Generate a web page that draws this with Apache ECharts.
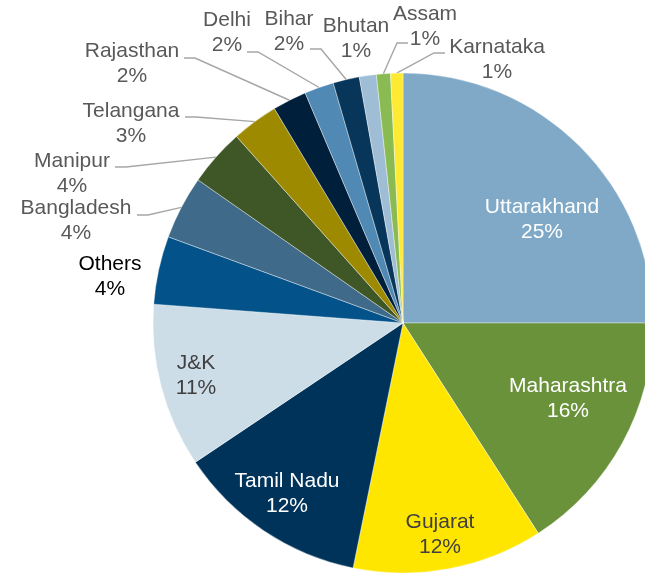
<!DOCTYPE html>
<html>
<head>
<meta charset="utf-8">
<script src="https://cdn.jsdelivr.net/npm/echarts/dist/echarts.min.js"></script>
<style>
  html, body { margin: 0; padding: 0; background: #fff; }
  #chart { width: 645px; height: 573px; }
</style>
</head>
<body>
<div id="chart"></div>
<script>
// share of total by region, clockwise from 12 o'clock
const regions = ['Uttarakhand', 'Maharashtra', 'Gujarat', 'Tamil Nadu', 'J&K', 'Others',
  'Bangladesh', 'Manipur', 'Telangana', 'Rajasthan', 'Delhi', 'Bihar', 'Bhutan', 'Assam', 'Karnataka']
const shares = [25.0, 15.9, 12.3, 12.4, 10.6, 4.4, 4.1, 3.7, 3.0, 2.2, 1.9, 1.7, 1.1, 0.9, 0.8]

const sliceColors = ['#7FA9C6', '#6A923A', '#FFE600', '#003359', '#CCDDE8', '#03538A',
  '#3F6A89', '#3F5727', '#9E8A00', '#001F3A', '#5089B4', '#07365A', '#9FBED6', '#8ABB52', '#FFEA33']

// label placement (centre of the two-line block)
const labelAt = {
  'Uttarakhand': [542, 220],
  'Maharashtra': [568, 399],
  'Gujarat': [440, 535],
  'Tamil Nadu': [287, 494],
  'J&K': [196, 376],
  'Others': [110, 277],
  'Bangladesh': [76, 221],
  'Manipur': [72, 174],
  'Telangana': [131, 124],
  'Rajasthan': [132, 64],
  'Delhi': [227, 33],
  'Bihar': [289, 32],
  'Bhutan': [356, 39],
  'Assam': [425, 27],
  'Karnataka': [497, 60]
}
// where the leader line leaves the label, and which way it heads
const leaderFrom = {
  'Bangladesh': [137, 215, 1],
  'Manipur': [115, 167, 1],
  'Telangana': [185, 117, 1],
  'Rajasthan': [184, 58, 1],
  'Delhi': [247, 52, 1],
  'Bihar': [310, 49, 1],
  'Assam': [408, 43, -1],
  'Karnataka': [445, 53, -1]
}
const insideLabels = ['Uttarakhand', 'Maharashtra', 'Gujarat', 'Tamil Nadu', 'J&K']
const darkInside = ['Gujarat', 'J&K']

function labelColor(name) {
  if (name === 'Others') return '#000000'
  if (darkInside.includes(name)) return '#404040'
  if (insideLabels.includes(name)) return '#FFFFFF'
  return '#595959'
}

const seriesData = regions.map((name, i) => ({
  name: name,
  value: shares[i],
  itemStyle: { color: sliceColors[i] },
  label: {
    position: insideLabels.includes(name) ? 'inside' : 'outside',
    color: labelColor(name)
  },
  labelLine: { show: !!leaderFrom[name] }
}))

const myChart = echarts.init(document.getElementById('chart'), null, { renderer: 'canvas' })

const option = {
  animation: false,
  backgroundColor: '#ffffff',
  series: [
    {
      type: 'pie',
      center: [403, 323],
      radius: 250,
      startAngle: 90,
      clockwise: true,
      avoidLabelOverlap: false,
      itemStyle: {
        borderColor: 'rgba(255,255,255,0.55)',
        borderWidth: 0.7
      },
      label: {
        fontFamily: 'Liberation Sans, Arial, sans-serif',
        fontSize: 21,
        lineHeight: 25,
        align: 'center',
        formatter: p => p.name + '\n' + Math.round(p.percent) + '%'
      },
      labelLine: {
        length: 10,
        length2: 10,
        lineStyle: { color: '#A6A6A6', width: 1.4 }
      },
      labelLayout: function (params) {
        const name = regions[params.dataIndex]
        const pos = labelAt[name]
        const out = { x: pos[0], y: pos[1], align: 'center', verticalAlign: 'middle' }
        const from = leaderFrom[name]
        if (from && params.labelLinePoints) {
          const arc = params.labelLinePoints[0]
          out.labelLinePoints = [
            [arc[0], arc[1]],
            [from[0] + from[2] * 11, from[1]],
            [from[0], from[1]]
          ]
        }
        return out
      },
      emphasis: { disabled: true },
      data: seriesData
    }
  ]
}
myChart.setOption(option)
</script>
</body>
</html>
